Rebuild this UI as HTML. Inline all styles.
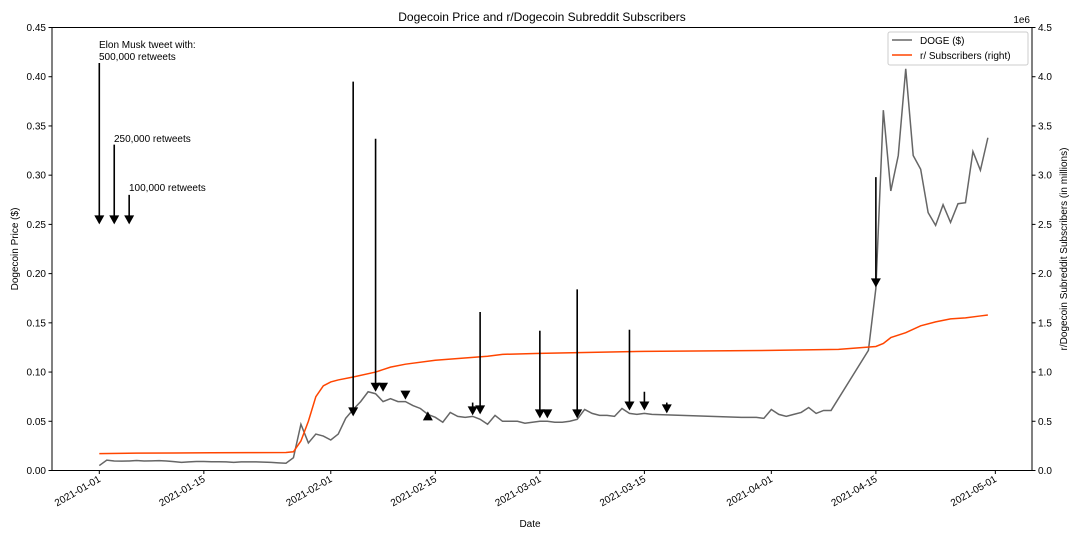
<!DOCTYPE html>
<html><head><meta charset="utf-8"><style>
body{margin:0;background:#fff;}
svg{display:block;font-family:"Liberation Sans","DejaVu Sans",sans-serif;}
</style></head><body>
<svg id="chart" width="1080" height="540" viewBox="0 0 1080 540">
<rect width="1080" height="540" fill="#fff"/>
<text x="542" y="21" text-anchor="middle" font-size="12">Dogecoin Price and r/Dogecoin Subreddit Subscribers</text>
<g id="axes"></g>
<g id="series"></g>
<g id="annots"></g>
<rect x="52" y="27.5" width="980" height="443" fill="none" stroke="#000" stroke-width="1"/>
<g>
<rect x="888" y="32" width="140" height="33" fill="#fff" stroke="#ccc" rx="2"/>
<g><line x1="892" y1="40" x2="912" y2="40" stroke="#666" stroke-width="1.5"/><text x="920" y="44" font-size="10">DOGE ($)</text></g>
<g><line x1="892" y1="55" x2="912" y2="55" stroke="#ff4500" stroke-width="1.5"/><text x="920" y="59" font-size="10">r/ Subscribers (right)</text></g>
</g>
<text x="1030" y="23" text-anchor="end" font-size="10">1e6</text>
<text x="530" y="527" text-anchor="middle" font-size="10">Date</text>
<text transform="translate(18,249) rotate(-90)" text-anchor="middle" font-size="10">Dogecoin Price ($)</text>
<text transform="translate(1067,249) rotate(-90)" text-anchor="middle" font-size="10">r/Dogecoin Subreddit Subscribers (in millions)</text>
</svg>
<script>
const dogeDays=[0,1,2,3,4,5,6,7,8,9,10,11,12,13,14,15,16,17,18,19,20,21,22,23,24,25,26,27,28,29,30,31,32,33,34,35,36,37,38,39,40,41,42,43,44,45,46,47,48,49,50,51,52,53,54,55,56,57,58,59,60,61,62,63,64,65,66,67,68,69,70,71,72,73,74,86,87,88,89,90,91,92,93,94,95,96,97,98,103,104,105,106,107,108,109,110,111,112,113,114,115,116,117,118,119];
const dogeVals=[0.005,0.0105,0.0097,0.0095,0.0097,0.0102,0.0097,0.0098,0.01,0.0097,0.009,0.0082,0.0088,0.0092,0.0092,0.0089,0.0089,0.0088,0.0083,0.0087,0.0087,0.0087,0.0085,0.0082,0.0078,0.0074,0.013,0.047,0.028,0.037,0.035,0.031,0.037,0.053,0.062,0.07,0.08,0.078,0.07,0.073,0.07,0.07,0.066,0.063,0.057,0.054,0.049,0.059,0.055,0.054,0.055,0.052,0.047,0.056,0.05,0.05,0.05,0.048,0.049,0.05,0.05,0.049,0.049,0.05,0.052,0.062,0.058,0.056,0.056,0.055,0.063,0.058,0.057,0.058,0.057,0.054,0.054,0.054,0.053,0.062,0.057,0.055,0.057,0.059,0.064,0.058,0.061,0.061,0.122,0.185,0.366,0.284,0.32,0.408,0.32,0.306,0.262,0.249,0.27,0.252,0.271,0.272,0.324,0.305,0.338];
const subDays=[0,5,10,15,20,25,26,27,28,29,30,31,32,34,37,39,41,45,52,54,59,73,90,99,104,105,106,108,110,112,114,116,118,119];
const subVals=[0.172,0.176,0.178,0.180,0.181,0.183,0.19,0.3,0.5,0.75,0.86,0.9,0.92,0.95,1.0,1.05,1.08,1.12,1.16,1.18,1.19,1.21,1.22,1.23,1.26,1.29,1.35,1.4,1.47,1.51,1.54,1.55,1.57,1.58];
const leftTicks=[0,0.05,0.1,0.15,0.2,0.25,0.3,0.35,0.4,0.45];
const rightTicks=[0,0.5,1.0,1.5,2.0,2.5,3.0,3.5,4.0,4.5];
const xTickDays=[0,14,31,45,59,73,90,104,120];
const xTickLabels=["2021-01-01","2021-01-15","2021-02-01","2021-02-15","2021-03-01","2021-03-15","2021-04-01","2021-04-15","2021-05-01"];
const annDays=[0,2,4,34,37,38,41,44,50,51,59,60,64,71,73,76,104];
const annHead=[0.25,0.25,0.25,0.055,0.08,0.08,0.072,0.06,0.056,0.057,0.053,0.053,0.053,0.061,0.061,0.058,0.186];
const annTop=[0.414,0.331,0.28,0.395,0.337,null,null,null,0.069,0.161,0.142,null,0.184,0.143,0.08,0.069,0.298];
const annUp=[0,0,0,0,0,0,0,1,0,0,0,0,0,0,0,0,0];

const NS="http://www.w3.org/2000/svg";
const X=d=>99.3+d*7.467;
const Y=v=>470.5-v/0.45*443;
const YR=v=>470.5-v/4.5*443;
function mk(tag,attrs,parent){const e=document.createElementNS(NS,tag);for(const k in attrs)e.setAttribute(k,attrs[k]);parent.appendChild(e);return e;}
const axes=document.getElementById('axes'),series=document.getElementById('series'),ann=document.getElementById('annots');
leftTicks.forEach(v=>{
  const g=mk('g',{},axes);
  
  
  mk('line',{x1:48.5,x2:52,y1:Y(v),y2:Y(v),stroke:'#000'},g);
  const t=mk('text',{x:46,y:Y(v)+3.5,'text-anchor':'end','font-size':10},g);t.textContent=v===0?'0.00':v.toFixed(2);
});
rightTicks.forEach(v=>{
  const g=mk('g',{},axes);
  
  
  mk('line',{x1:1032,x2:1035.5,y1:YR(v),y2:YR(v),stroke:'#000'},g);
  const t=mk('text',{x:1038,y:YR(v)+3.5,'font-size':10},g);t.textContent=v.toFixed(1);
});
xTickDays.forEach((d,i)=>{
  const g=mk('g',{},axes);
  
  
  mk('line',{x1:X(d),x2:X(d),y1:470.5,y2:474,stroke:'#000'},g);
  const t=mk('text',{transform:`translate(${X(d)+2},${481}) rotate(-30)`,'text-anchor':'end','font-size':10},g);t.textContent=xTickLabels[i];
});
const p1=mk('polyline',{points:dogeDays.map((d,i)=>X(d)+','+Y(dogeVals[i])).join(' '),fill:'none',stroke:'#666','stroke-width':1.5},series);


const p2=mk('polyline',{points:subDays.map((d,i)=>X(d)+','+YR(subVals[i])).join(' '),fill:'none',stroke:'#ff4500','stroke-width':1.5},series);


annDays.forEach((d,i)=>{
  const x=X(d),yh=Y(annHead[i]);
  const g=mk('g',{},ann);
  
  
  if(annTop[i]!==null) mk('line',{x1:x,x2:x,y1:Y(annTop[i]),y2:yh-8,stroke:'#000','stroke-width':1.6},g);
  if(annUp[i]) mk('polygon',{points:`${x-5},${yh+9} ${x+5},${yh+9} ${x},${yh}`,fill:'#000'},g);
  else mk('polygon',{points:`${x-5},${yh-9} ${x+5},${yh-9} ${x},${yh}`,fill:'#000'},g);
});
const labels=[[99,48,'Elon Musk tweet with:'],[99,60,'500,000 retweets'],[114,142,'250,000 retweets'],[129,191,'100,000 retweets']];
labels.forEach(l=>{
  const t=mk('text',{x:l[0],y:l[1],'font-size':10},ann);
  
  
  t.textContent=l[2];
});
</script>
</body></html>
